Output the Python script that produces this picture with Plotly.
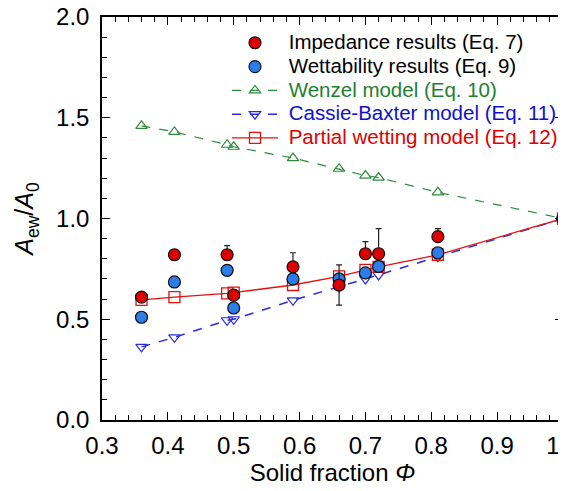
import plotly.graph_objects as go

phi = [0.36, 0.41, 0.49, 0.50, 0.59, 0.66, 0.70, 0.72, 0.81, 1.0]
impedance = [0.61, 0.82, 0.82, 0.62, 0.76, 0.67, 0.825, 0.825, 0.91, 1.0]
imp_err_plus = [0.02, 0.0, 0.045, 0.0, 0.07, 0.10, 0.06, 0.125, 0.04, 0.0]
imp_err_minus = [0.0, 0.0, 0.0, 0.0, 0.0, 0.10, 0.0, 0.0, 0.0, 0.0]
wettability = [0.51, 0.685, 0.743, 0.556, 0.70, 0.70, 0.73, 0.762, 0.83, 1.0]
wenzel = [1.46, 1.43, 1.366, 1.356, 1.30, 1.247, 1.213, 1.203, 1.13, 1.0]
cassie = [0.363, 0.41, 0.495, 0.50, 0.594, 0.66, 0.70, 0.72, 0.81, 1.0]
partial = [0.596, 0.61, 0.628, 0.632, 0.67, 0.713, 0.745, 0.76, 0.82, 1.0]

x_ticks = [0.3, 0.4, 0.5, 0.6, 0.7, 0.8, 0.9, 1.0]
x_ticklabels = ["0.3", "0.4", "0.5", "0.6", "0.7", "0.8", "0.9", "1.0"]
y_ticks = [0.0, 0.5, 1.0, 1.5, 2.0]
y_ticklabels = ["0.0", "0.5", "1.0", "1.5", "2.0"]

GREEN = "#2e8b3e"
BLUE_LINE = "#2a2ae0"
RED = "#e41010"
RED_FILL = "#dd0000"
BLUE_FILL = "#2b7de9"
FONT = "Liberation Sans, Arial, sans-serif"
LEG_SIZE = 20.5


def legname(text, color="black"):
    return f"<span style='font-size:{LEG_SIZE}px;color:{color}'>&nbsp;{text}</span>"


fig = go.Figure()

fig.add_trace(go.Scatter(
    x=phi, y=wenzel, mode="lines+markers", name=legname("Wenzel model (Eq. 10)", "#1f7f30"),
    line=dict(color=GREEN, width=1.2, dash="dash"),
    marker=dict(symbol="triangle-up-open", size=10, color=GREEN, line=dict(width=1.2)),
    legendrank=3, cliponaxis=False,
))
fig.add_trace(go.Scatter(
    x=phi, y=cassie, mode="lines+markers", name=legname("Cassie-Baxter model (Eq. 11)", "#1010d0"),
    line=dict(color=BLUE_LINE, width=1.5, dash="dash"),
    marker=dict(symbol="triangle-down-open", size=10, color=BLUE_LINE, line=dict(width=1.2)),
    legendrank=4, cliponaxis=False,
))
fig.add_trace(go.Scatter(
    x=phi, y=partial, mode="lines+markers", name=legname("Partial wetting model (Eq. 12)", "#e00000"),
    line=dict(color=RED, width=1.3),
    marker=dict(symbol="square-open", size=11, color=RED, line=dict(width=1.3)),
    legendrank=5, cliponaxis=False,
))
fig.add_trace(go.Scatter(
    x=phi, y=wettability, mode="markers", name=legname("Wettability results (Eq. 9)"),
    marker=dict(symbol="circle", size=12, color=BLUE_FILL, line=dict(color="#111111", width=1.2)),
    legendrank=2, cliponaxis=False,
))
fig.add_trace(go.Scatter(
    x=phi, y=impedance, mode="markers", name=legname("Impedance results (Eq. 7)"),
    marker=dict(symbol="circle", size=12, color=RED_FILL, line=dict(color="#111111", width=1.2)),
    error_y=dict(type="data", symmetric=False, array=imp_err_plus, arrayminus=imp_err_minus,
                 color="#222222", thickness=1.2, width=3),
    legendrank=1, cliponaxis=False,
))

axis_common = dict(
    showline=True, linecolor="black", linewidth=1.5, mirror="allticks",
    ticks="inside", ticklen=8, tickwidth=1.2, tickcolor="black",
    showgrid=False, zeroline=False, automargin=False,
    ticklabeloverflow="allow",
    tickfont=dict(family=FONT, size=24, color="black"),
)

fig.update_xaxes(
    range=[0.3, 1.0], tickvals=x_ticks, ticktext=x_ticklabels,
    minor=dict(dtick=0.02, tick0=0.3, ticks="inside", ticklen=5, tickwidth=1, tickcolor="black"),
    title=dict(text="Solid fraction <i>Φ</i>", font=dict(family=FONT, size=24, color="black"), standoff=6),
    ticklabelstandoff=3,
    **axis_common,
)
fig.update_yaxes(
    range=[0.0, 2.0], tickvals=y_ticks, ticktext=y_ticklabels,
    minor=dict(dtick=0.1, tick0=0, ticks="inside", ticklen=5, tickwidth=1, tickcolor="black"),
    title=dict(text="<i>A</i><sub>ew</sub>/<i>A</i><sub>0</sub>", font=dict(family=FONT, size=25, color="black"), standoff=15),
    ticklabelstandoff=6,
    **axis_common,
)

# The page body has an 8px margin, so the figure is offset by 8px right and down.
fig.update_layout(
    width=558, height=483,
    margin=dict(l=94, r=3, t=9, b=71),
    plot_bgcolor="white", paper_bgcolor="white",
    font=dict(family=FONT, color="black"),
    showlegend=True,
    legend=dict(
        x=1.0, y=0.978, xanchor="right", yanchor="top",
        bgcolor="rgba(0,0,0,0)", borderwidth=0,
        font=dict(family=FONT, size=16),
        traceorder="normal", itemwidth=46,
    ),
)

fig.write_html("out.html")
